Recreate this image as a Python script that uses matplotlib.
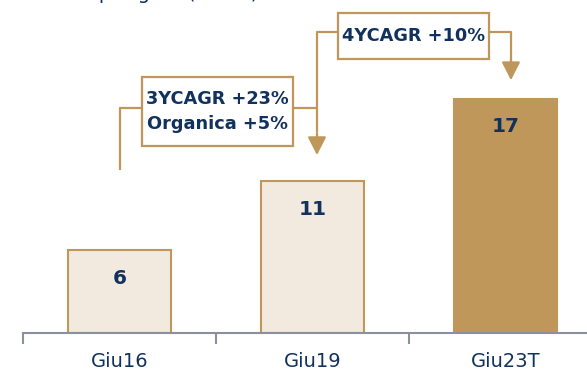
import matplotlib

matplotlib.use("Agg")

import matplotlib.pyplot as plt
from matplotlib.patches import Rectangle

GOLD = "#bf975a"
GOLD_LIGHT = "#f2eadf"
NAVY = "#12325e"
AXIS_GREY = "#8c909c"

periods = ["Giu16", "Giu19", "Giu23T"]
values = [6, 11, 17]
cagr_labels = ["3YCAGR +23%\nOrganica +5%", "4YCAGR +10%"]
title = "Ricavi per gare (€ mln)"

plt.rcParams["font.family"] = ["DejaVu Sans"]

fig = plt.figure(figsize=(5.87, 3.77), dpi=100)
ax = fig.add_axes([23 / 587, 44 / 377, 1 - 23 / 587, 331 / 377])

x = list(range(len(periods)))
face = [GOLD_LIGHT, GOLD_LIGHT, GOLD]
ax.bar(x, values, width=0.53, color=face, edgecolor=GOLD, linewidth=1.5, zorder=2)

for xi, v in zip(x, values):
    ax.text(xi, v - 2.05, str(v), ha="center", va="center", fontsize=14.5,
            fontweight="bold", color=NAVY, zorder=3)

# axis with ticks between categories
for s in ["top", "right", "left"]:
    ax.spines[s].set_visible(False)
ax.spines["bottom"].set_color(AXIS_GREY)
ax.spines["bottom"].set_linewidth(1.5)
ax.set_yticks([])
ax.set_xticks([-0.5, 0.5, 1.5, 2.5], minor=False)
ax.set_xticklabels([])
ax.tick_params(axis="x", which="major", length=8, width=1.5, color=AXIS_GREY)
ax.set_xticks(x, minor=True)
ax.set_xticklabels(periods, minor=True, fontsize=14, color=NAVY)
ax.tick_params(axis="x", which="minor", length=0, pad=14)
ax.set_xlim(-0.5, 2.422)
ax.set_ylim(0, 24)

line_kw = dict(color=GOLD, linewidth=1.6, zorder=1, solid_capstyle="butt")
arrow_kw = dict(arrowstyle="-|>,head_length=0.55,head_width=0.28",
                mutation_scale=20, color=GOLD, linewidth=1.6, shrinkA=0, shrinkB=0)


def label_box(cx, cy, w, h, text):
    ax.add_patch(Rectangle((cx - w / 2, cy - h / 2), w, h, facecolor="white",
                           edgecolor=GOLD, linewidth=1.6, zorder=4, clip_on=False))
    ax.text(cx, cy, text, ha="center", va="center", fontsize=12.8,
            fontweight="bold", color=NAVY, linespacing=1.45, zorder=5)


# Giu16 -> Giu19
y1 = 16.3
ax.plot([0.0, 0.0, 1.023], [11.8, y1, y1], clip_on=False, **line_kw)
ax.annotate("", xy=(1.023, 12.9), xytext=(1.023, 14.5), arrowprops=arrow_kw)
label_box(0.508, 16.05, 0.782, 5.0, cagr_labels[0])

# Giu19 -> Giu23T
y2 = 21.8
ax.plot([1.023, 1.023, 2.028, 2.028], [14.6, y2, y2, 19.6], clip_on=False, **line_kw)
ax.annotate("", xy=(2.028, 18.33), xytext=(2.028, 19.8), arrowprops=arrow_kw)
label_box(1.523, 21.55, 0.782, 3.3, cagr_labels[1])

# heading sits above the top edge, only descenders show
fig.text(34 / 587, 1.0 + 1 / 377, title, ha="left", va="baseline", fontsize=14, color=NAVY)

fig.savefig("out.png", dpi=100, facecolor="white")
